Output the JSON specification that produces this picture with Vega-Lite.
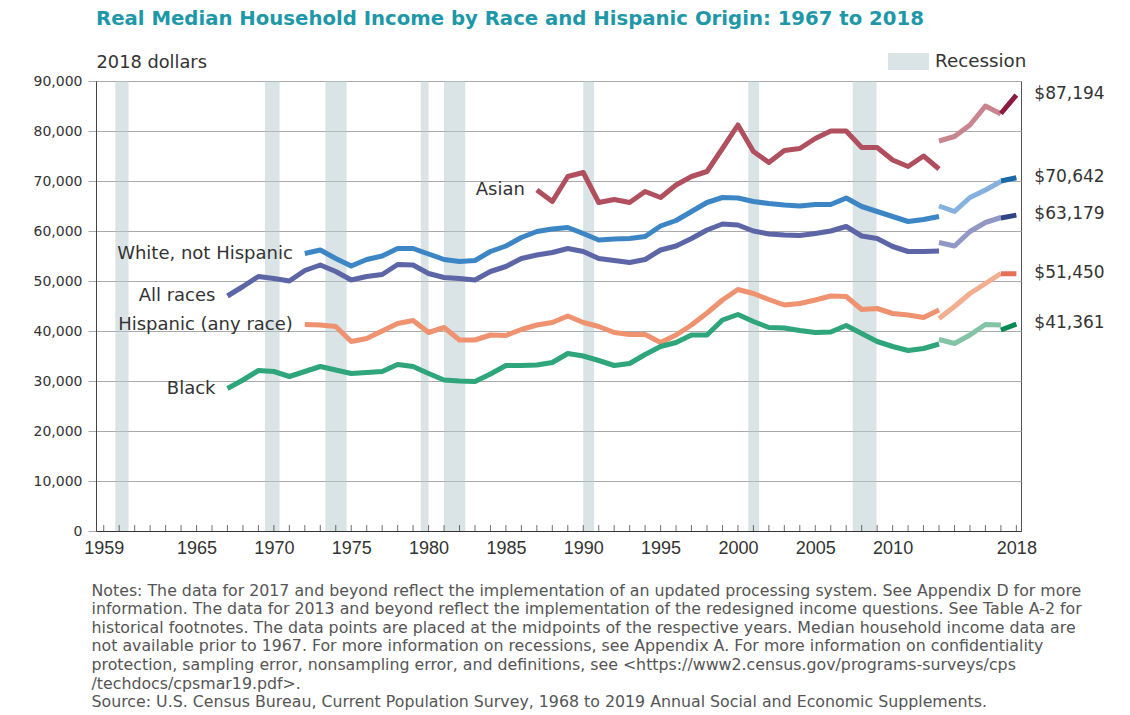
{
  "$schema": "https://vega.github.io/schema/vega-lite/v6.json",
  "width": 925,
  "height": 450,
  "autosize": {"type": "none"},
  "padding": {"left": 96, "top": 81, "right": 109, "bottom": 184},
  "background": "white",
  "config": {
    "view": {"stroke": "#555"},
    "font": "DejaVu Sans",
    "axisX": {"labelOverlap": false, "labelBound": false, "labelFlush": false},
    "axisY": {"labelOverlap": false}
  },
  "title": {
    "text": "Real Median Household Income by Race and Hispanic Origin: 1967 to 2018",
    "anchor": "start",
    "frame": "group",
    "font": "DejaVu Sans",
    "fontSize": 19.7,
    "fontWeight": "bold",
    "color": "#1e98a8",
    "offset": 12
  },
  "datasets": {
    "years": [
      {"year": 1959}, {"year": 1960}, {"year": 1961}, {"year": 1962}, {"year": 1963}, {"year": 1964}, {"year": 1965}, {"year": 1966}, {"year": 1967}, {"year": 1968},
      {"year": 1969}, {"year": 1970}, {"year": 1971}, {"year": 1972}, {"year": 1973}, {"year": 1974}, {"year": 1975}, {"year": 1976}, {"year": 1977}, {"year": 1978},
      {"year": 1979}, {"year": 1980}, {"year": 1981}, {"year": 1982}, {"year": 1983}, {"year": 1984}, {"year": 1985}, {"year": 1986}, {"year": 1987}, {"year": 1988},
      {"year": 1989}, {"year": 1990}, {"year": 1991}, {"year": 1992}, {"year": 1993}, {"year": 1994}, {"year": 1995}, {"year": 1996}, {"year": 1997}, {"year": 1998},
      {"year": 1999}, {"year": 2000}, {"year": 2001}, {"year": 2002}, {"year": 2003}, {"year": 2004}, {"year": 2005}, {"year": 2006}, {"year": 2007}, {"year": 2008},
      {"year": 2009}, {"year": 2010}, {"year": 2011}, {"year": 2012}, {"year": 2013}, {"year": 2014}, {"year": 2015}, {"year": 2016}, {"year": 2017}, {"year": 2018}
    ],
    "recessions": [
      {"start": 1960.25, "end": 1961.1},
      {"start": 1969.92, "end": 1970.87},
      {"start": 1973.83, "end": 1975.2},
      {"start": 1980.0, "end": 1980.5},
      {"start": 1981.5, "end": 1982.87},
      {"start": 1990.5, "end": 1991.2},
      {"start": 2001.17, "end": 2001.87},
      {"start": 2007.92, "end": 2009.46}
    ],
    "income": [
      {"series": "All races", "seg": 1, "year": 1967, "value": 47000},
      {"series": "All races", "seg": 1, "year": 1968, "value": 48900},
      {"series": "All races", "seg": 1, "year": 1969, "value": 50900},
      {"series": "All races", "seg": 1, "year": 1970, "value": 50500},
      {"series": "All races", "seg": 1, "year": 1971, "value": 50000},
      {"series": "All races", "seg": 1, "year": 1972, "value": 52100},
      {"series": "All races", "seg": 1, "year": 1973, "value": 53200},
      {"series": "All races", "seg": 1, "year": 1974, "value": 51900},
      {"series": "All races", "seg": 1, "year": 1975, "value": 50200},
      {"series": "All races", "seg": 1, "year": 1976, "value": 50900},
      {"series": "All races", "seg": 1, "year": 1977, "value": 51300},
      {"series": "All races", "seg": 1, "year": 1978, "value": 53300},
      {"series": "All races", "seg": 1, "year": 1979, "value": 53200},
      {"series": "All races", "seg": 1, "year": 1980, "value": 51500},
      {"series": "All races", "seg": 1, "year": 1981, "value": 50700},
      {"series": "All races", "seg": 1, "year": 1982, "value": 50500},
      {"series": "All races", "seg": 1, "year": 1983, "value": 50200},
      {"series": "All races", "seg": 1, "year": 1984, "value": 51900},
      {"series": "All races", "seg": 1, "year": 1985, "value": 52900},
      {"series": "All races", "seg": 1, "year": 1986, "value": 54500},
      {"series": "All races", "seg": 1, "year": 1987, "value": 55200},
      {"series": "All races", "seg": 1, "year": 1988, "value": 55700},
      {"series": "All races", "seg": 1, "year": 1989, "value": 56500},
      {"series": "All races", "seg": 1, "year": 1990, "value": 55900},
      {"series": "All races", "seg": 1, "year": 1991, "value": 54500},
      {"series": "All races", "seg": 1, "year": 1992, "value": 54100},
      {"series": "All races", "seg": 1, "year": 1993, "value": 53700},
      {"series": "All races", "seg": 1, "year": 1994, "value": 54300},
      {"series": "All races", "seg": 1, "year": 1995, "value": 56200},
      {"series": "All races", "seg": 1, "year": 1996, "value": 57000},
      {"series": "All races", "seg": 1, "year": 1997, "value": 58500},
      {"series": "All races", "seg": 1, "year": 1998, "value": 60200},
      {"series": "All races", "seg": 1, "year": 1999, "value": 61400},
      {"series": "All races", "seg": 1, "year": 2000, "value": 61200},
      {"series": "All races", "seg": 1, "year": 2001, "value": 60000},
      {"series": "All races", "seg": 1, "year": 2002, "value": 59400},
      {"series": "All races", "seg": 1, "year": 2003, "value": 59200},
      {"series": "All races", "seg": 1, "year": 2004, "value": 59100},
      {"series": "All races", "seg": 1, "year": 2005, "value": 59500},
      {"series": "All races", "seg": 1, "year": 2006, "value": 60000},
      {"series": "All races", "seg": 1, "year": 2007, "value": 60900},
      {"series": "All races", "seg": 1, "year": 2008, "value": 59000},
      {"series": "All races", "seg": 1, "year": 2009, "value": 58500},
      {"series": "All races", "seg": 1, "year": 2010, "value": 56900},
      {"series": "All races", "seg": 1, "year": 2011, "value": 55900},
      {"series": "All races", "seg": 1, "year": 2012, "value": 55900},
      {"series": "All races", "seg": 1, "year": 2013, "value": 56000},
      {"series": "All races", "seg": 2, "year": 2013, "value": 57700},
      {"series": "All races", "seg": 2, "year": 2014, "value": 57000},
      {"series": "All races", "seg": 2, "year": 2015, "value": 59900},
      {"series": "All races", "seg": 2, "year": 2016, "value": 61700},
      {"series": "All races", "seg": 2, "year": 2017, "value": 62700},
      {"series": "All races", "seg": 3, "year": 2017, "value": 62600},
      {"series": "All races", "seg": 3, "year": 2018, "value": 63179},

      {"series": "White, not Hispanic", "seg": 1, "year": 1972, "value": 55500},
      {"series": "White, not Hispanic", "seg": 1, "year": 1973, "value": 56200},
      {"series": "White, not Hispanic", "seg": 1, "year": 1974, "value": 54500},
      {"series": "White, not Hispanic", "seg": 1, "year": 1975, "value": 53000},
      {"series": "White, not Hispanic", "seg": 1, "year": 1976, "value": 54300},
      {"series": "White, not Hispanic", "seg": 1, "year": 1977, "value": 55000},
      {"series": "White, not Hispanic", "seg": 1, "year": 1978, "value": 56500},
      {"series": "White, not Hispanic", "seg": 1, "year": 1979, "value": 56500},
      {"series": "White, not Hispanic", "seg": 1, "year": 1980, "value": 55400},
      {"series": "White, not Hispanic", "seg": 1, "year": 1981, "value": 54300},
      {"series": "White, not Hispanic", "seg": 1, "year": 1982, "value": 53900},
      {"series": "White, not Hispanic", "seg": 1, "year": 1983, "value": 54100},
      {"series": "White, not Hispanic", "seg": 1, "year": 1984, "value": 55900},
      {"series": "White, not Hispanic", "seg": 1, "year": 1985, "value": 57000},
      {"series": "White, not Hispanic", "seg": 1, "year": 1986, "value": 58700},
      {"series": "White, not Hispanic", "seg": 1, "year": 1987, "value": 59900},
      {"series": "White, not Hispanic", "seg": 1, "year": 1988, "value": 60400},
      {"series": "White, not Hispanic", "seg": 1, "year": 1989, "value": 60700},
      {"series": "White, not Hispanic", "seg": 1, "year": 1990, "value": 59500},
      {"series": "White, not Hispanic", "seg": 1, "year": 1991, "value": 58200},
      {"series": "White, not Hispanic", "seg": 1, "year": 1992, "value": 58400},
      {"series": "White, not Hispanic", "seg": 1, "year": 1993, "value": 58500},
      {"series": "White, not Hispanic", "seg": 1, "year": 1994, "value": 58900},
      {"series": "White, not Hispanic", "seg": 1, "year": 1995, "value": 61000},
      {"series": "White, not Hispanic", "seg": 1, "year": 1996, "value": 62100},
      {"series": "White, not Hispanic", "seg": 1, "year": 1997, "value": 63900},
      {"series": "White, not Hispanic", "seg": 1, "year": 1998, "value": 65700},
      {"series": "White, not Hispanic", "seg": 1, "year": 1999, "value": 66700},
      {"series": "White, not Hispanic", "seg": 1, "year": 2000, "value": 66600},
      {"series": "White, not Hispanic", "seg": 1, "year": 2001, "value": 65900},
      {"series": "White, not Hispanic", "seg": 1, "year": 2002, "value": 65500},
      {"series": "White, not Hispanic", "seg": 1, "year": 2003, "value": 65200},
      {"series": "White, not Hispanic", "seg": 1, "year": 2004, "value": 65000},
      {"series": "White, not Hispanic", "seg": 1, "year": 2005, "value": 65300},
      {"series": "White, not Hispanic", "seg": 1, "year": 2006, "value": 65300},
      {"series": "White, not Hispanic", "seg": 1, "year": 2007, "value": 66600},
      {"series": "White, not Hispanic", "seg": 1, "year": 2008, "value": 64900},
      {"series": "White, not Hispanic", "seg": 1, "year": 2009, "value": 63900},
      {"series": "White, not Hispanic", "seg": 1, "year": 2010, "value": 62900},
      {"series": "White, not Hispanic", "seg": 1, "year": 2011, "value": 61900},
      {"series": "White, not Hispanic", "seg": 1, "year": 2012, "value": 62300},
      {"series": "White, not Hispanic", "seg": 1, "year": 2013, "value": 62900},
      {"series": "White, not Hispanic", "seg": 2, "year": 2013, "value": 65000},
      {"series": "White, not Hispanic", "seg": 2, "year": 2014, "value": 63900},
      {"series": "White, not Hispanic", "seg": 2, "year": 2015, "value": 66700},
      {"series": "White, not Hispanic", "seg": 2, "year": 2016, "value": 68200},
      {"series": "White, not Hispanic", "seg": 2, "year": 2017, "value": 69900},
      {"series": "White, not Hispanic", "seg": 3, "year": 2017, "value": 70000},
      {"series": "White, not Hispanic", "seg": 3, "year": 2018, "value": 70642},

      {"series": "Asian", "seg": 1, "year": 1987, "value": 68200},
      {"series": "Asian", "seg": 1, "year": 1988, "value": 65900},
      {"series": "Asian", "seg": 1, "year": 1989, "value": 70900},
      {"series": "Asian", "seg": 1, "year": 1990, "value": 71700},
      {"series": "Asian", "seg": 1, "year": 1991, "value": 65700},
      {"series": "Asian", "seg": 1, "year": 1992, "value": 66300},
      {"series": "Asian", "seg": 1, "year": 1993, "value": 65700},
      {"series": "Asian", "seg": 1, "year": 1994, "value": 67900},
      {"series": "Asian", "seg": 1, "year": 1995, "value": 66700},
      {"series": "Asian", "seg": 1, "year": 1996, "value": 69200},
      {"series": "Asian", "seg": 1, "year": 1997, "value": 70900},
      {"series": "Asian", "seg": 1, "year": 1998, "value": 71900},
      {"series": "Asian", "seg": 1, "year": 1999, "value": 76500},
      {"series": "Asian", "seg": 1, "year": 2000, "value": 81200},
      {"series": "Asian", "seg": 1, "year": 2001, "value": 75900},
      {"series": "Asian", "seg": 1, "year": 2002, "value": 73700},
      {"series": "Asian", "seg": 1, "year": 2003, "value": 76100},
      {"series": "Asian", "seg": 1, "year": 2004, "value": 76500},
      {"series": "Asian", "seg": 1, "year": 2005, "value": 78500},
      {"series": "Asian", "seg": 1, "year": 2006, "value": 80000},
      {"series": "Asian", "seg": 1, "year": 2007, "value": 80000},
      {"series": "Asian", "seg": 1, "year": 2008, "value": 76700},
      {"series": "Asian", "seg": 1, "year": 2009, "value": 76700},
      {"series": "Asian", "seg": 1, "year": 2010, "value": 74200},
      {"series": "Asian", "seg": 1, "year": 2011, "value": 72900},
      {"series": "Asian", "seg": 1, "year": 2012, "value": 75000},
      {"series": "Asian", "seg": 1, "year": 2013, "value": 72400},
      {"series": "Asian", "seg": 2, "year": 2013, "value": 78000},
      {"series": "Asian", "seg": 2, "year": 2014, "value": 78900},
      {"series": "Asian", "seg": 2, "year": 2015, "value": 81200},
      {"series": "Asian", "seg": 2, "year": 2016, "value": 85000},
      {"series": "Asian", "seg": 2, "year": 2017, "value": 83400},
      {"series": "Asian", "seg": 3, "year": 2017, "value": 83500},
      {"series": "Asian", "seg": 3, "year": 2018, "value": 87194},

      {"series": "Hispanic (any race)", "seg": 1, "year": 1972, "value": 41300},
      {"series": "Hispanic (any race)", "seg": 1, "year": 1973, "value": 41200},
      {"series": "Hispanic (any race)", "seg": 1, "year": 1974, "value": 40900},
      {"series": "Hispanic (any race)", "seg": 1, "year": 1975, "value": 37900},
      {"series": "Hispanic (any race)", "seg": 1, "year": 1976, "value": 38500},
      {"series": "Hispanic (any race)", "seg": 1, "year": 1977, "value": 40000},
      {"series": "Hispanic (any race)", "seg": 1, "year": 1978, "value": 41500},
      {"series": "Hispanic (any race)", "seg": 1, "year": 1979, "value": 42100},
      {"series": "Hispanic (any race)", "seg": 1, "year": 1980, "value": 39700},
      {"series": "Hispanic (any race)", "seg": 1, "year": 1981, "value": 40700},
      {"series": "Hispanic (any race)", "seg": 1, "year": 1982, "value": 38200},
      {"series": "Hispanic (any race)", "seg": 1, "year": 1983, "value": 38200},
      {"series": "Hispanic (any race)", "seg": 1, "year": 1984, "value": 39200},
      {"series": "Hispanic (any race)", "seg": 1, "year": 1985, "value": 39100},
      {"series": "Hispanic (any race)", "seg": 1, "year": 1986, "value": 40300},
      {"series": "Hispanic (any race)", "seg": 1, "year": 1987, "value": 41200},
      {"series": "Hispanic (any race)", "seg": 1, "year": 1988, "value": 41700},
      {"series": "Hispanic (any race)", "seg": 1, "year": 1989, "value": 43000},
      {"series": "Hispanic (any race)", "seg": 1, "year": 1990, "value": 41700},
      {"series": "Hispanic (any race)", "seg": 1, "year": 1991, "value": 40900},
      {"series": "Hispanic (any race)", "seg": 1, "year": 1992, "value": 39700},
      {"series": "Hispanic (any race)", "seg": 1, "year": 1993, "value": 39300},
      {"series": "Hispanic (any race)", "seg": 1, "year": 1994, "value": 39300},
      {"series": "Hispanic (any race)", "seg": 1, "year": 1995, "value": 37700},
      {"series": "Hispanic (any race)", "seg": 1, "year": 1996, "value": 39200},
      {"series": "Hispanic (any race)", "seg": 1, "year": 1997, "value": 41200},
      {"series": "Hispanic (any race)", "seg": 1, "year": 1998, "value": 43600},
      {"series": "Hispanic (any race)", "seg": 1, "year": 1999, "value": 46200},
      {"series": "Hispanic (any race)", "seg": 1, "year": 2000, "value": 48300},
      {"series": "Hispanic (any race)", "seg": 1, "year": 2001, "value": 47500},
      {"series": "Hispanic (any race)", "seg": 1, "year": 2002, "value": 46300},
      {"series": "Hispanic (any race)", "seg": 1, "year": 2003, "value": 45200},
      {"series": "Hispanic (any race)", "seg": 1, "year": 2004, "value": 45500},
      {"series": "Hispanic (any race)", "seg": 1, "year": 2005, "value": 46200},
      {"series": "Hispanic (any race)", "seg": 1, "year": 2006, "value": 47000},
      {"series": "Hispanic (any race)", "seg": 1, "year": 2007, "value": 46900},
      {"series": "Hispanic (any race)", "seg": 1, "year": 2008, "value": 44300},
      {"series": "Hispanic (any race)", "seg": 1, "year": 2009, "value": 44500},
      {"series": "Hispanic (any race)", "seg": 1, "year": 2010, "value": 43500},
      {"series": "Hispanic (any race)", "seg": 1, "year": 2011, "value": 43200},
      {"series": "Hispanic (any race)", "seg": 1, "year": 2012, "value": 42700},
      {"series": "Hispanic (any race)", "seg": 1, "year": 2013, "value": 44200},
      {"series": "Hispanic (any race)", "seg": 2, "year": 2013, "value": 42500},
      {"series": "Hispanic (any race)", "seg": 2, "year": 2014, "value": 44900},
      {"series": "Hispanic (any race)", "seg": 2, "year": 2015, "value": 47500},
      {"series": "Hispanic (any race)", "seg": 2, "year": 2016, "value": 49500},
      {"series": "Hispanic (any race)", "seg": 2, "year": 2017, "value": 51500},
      {"series": "Hispanic (any race)", "seg": 3, "year": 2017, "value": 51450},
      {"series": "Hispanic (any race)", "seg": 3, "year": 2018, "value": 51450},

      {"series": "Black", "seg": 1, "year": 1967, "value": 28500},
      {"series": "Black", "seg": 1, "year": 1968, "value": 30200},
      {"series": "Black", "seg": 1, "year": 1969, "value": 32100},
      {"series": "Black", "seg": 1, "year": 1970, "value": 31900},
      {"series": "Black", "seg": 1, "year": 1971, "value": 30900},
      {"series": "Black", "seg": 1, "year": 1972, "value": 31900},
      {"series": "Black", "seg": 1, "year": 1973, "value": 32900},
      {"series": "Black", "seg": 1, "year": 1974, "value": 32200},
      {"series": "Black", "seg": 1, "year": 1975, "value": 31500},
      {"series": "Black", "seg": 1, "year": 1976, "value": 31700},
      {"series": "Black", "seg": 1, "year": 1977, "value": 31900},
      {"series": "Black", "seg": 1, "year": 1978, "value": 33300},
      {"series": "Black", "seg": 1, "year": 1979, "value": 32900},
      {"series": "Black", "seg": 1, "year": 1980, "value": 31500},
      {"series": "Black", "seg": 1, "year": 1981, "value": 30200},
      {"series": "Black", "seg": 1, "year": 1982, "value": 30000},
      {"series": "Black", "seg": 1, "year": 1983, "value": 29900},
      {"series": "Black", "seg": 1, "year": 1984, "value": 31400},
      {"series": "Black", "seg": 1, "year": 1985, "value": 33100},
      {"series": "Black", "seg": 1, "year": 1986, "value": 33100},
      {"series": "Black", "seg": 1, "year": 1987, "value": 33200},
      {"series": "Black", "seg": 1, "year": 1988, "value": 33700},
      {"series": "Black", "seg": 1, "year": 1989, "value": 35500},
      {"series": "Black", "seg": 1, "year": 1990, "value": 35000},
      {"series": "Black", "seg": 1, "year": 1991, "value": 34100},
      {"series": "Black", "seg": 1, "year": 1992, "value": 33100},
      {"series": "Black", "seg": 1, "year": 1993, "value": 33500},
      {"series": "Black", "seg": 1, "year": 1994, "value": 35300},
      {"series": "Black", "seg": 1, "year": 1995, "value": 36900},
      {"series": "Black", "seg": 1, "year": 1996, "value": 37700},
      {"series": "Black", "seg": 1, "year": 1997, "value": 39200},
      {"series": "Black", "seg": 1, "year": 1998, "value": 39200},
      {"series": "Black", "seg": 1, "year": 1999, "value": 42200},
      {"series": "Black", "seg": 1, "year": 2000, "value": 43300},
      {"series": "Black", "seg": 1, "year": 2001, "value": 41900},
      {"series": "Black", "seg": 1, "year": 2002, "value": 40700},
      {"series": "Black", "seg": 1, "year": 2003, "value": 40600},
      {"series": "Black", "seg": 1, "year": 2004, "value": 40100},
      {"series": "Black", "seg": 1, "year": 2005, "value": 39700},
      {"series": "Black", "seg": 1, "year": 2006, "value": 39800},
      {"series": "Black", "seg": 1, "year": 2007, "value": 41100},
      {"series": "Black", "seg": 1, "year": 2008, "value": 39500},
      {"series": "Black", "seg": 1, "year": 2009, "value": 37900},
      {"series": "Black", "seg": 1, "year": 2010, "value": 36900},
      {"series": "Black", "seg": 1, "year": 2011, "value": 36100},
      {"series": "Black", "seg": 1, "year": 2012, "value": 36500},
      {"series": "Black", "seg": 1, "year": 2013, "value": 37400},
      {"series": "Black", "seg": 2, "year": 2013, "value": 38300},
      {"series": "Black", "seg": 2, "year": 2014, "value": 37500},
      {"series": "Black", "seg": 2, "year": 2015, "value": 39200},
      {"series": "Black", "seg": 2, "year": 2016, "value": 41300},
      {"series": "Black", "seg": 2, "year": 2017, "value": 41200},
      {"series": "Black", "seg": 3, "year": 2017, "value": 40200},
      {"series": "Black", "seg": 3, "year": 2018, "value": 41361}
    ]
  },
  "resolve": {"scale": {"color": "independent"}},
  "layer": [
    {
      "data": {"name": "recessions"},
      "mark": {"type": "rect", "opacity": 0.5},
      "encoding": {
        "x": {
          "field": "start",
          "type": "quantitative",
          "scale": {"domain": [1959, 2018.8], "nice": false, "zero": false},
          "axis": {
            "title": [
              "Notes: The data for 2017 and beyond reflect the implementation of an updated processing system. See Appendix D for more",
              "information. The data for 2013 and beyond reflect the implementation of the redesigned income questions. See Table A-2 for",
              "historical footnotes. The data points are placed at the midpoints of the respective years. Median household income data are",
              "not available prior to 1967. For more information on recessions, see Appendix A. For more information on confidentiality",
              "protection, sampling error, nonsampling error, and definitions, see <https://www2.census.gov/programs-surveys/cps",
              "/techdocs/cpsmar19.pdf>.",
              "Source: U.S. Census Bureau, Current Population Survey, 1968 to 2019 Annual Social and Economic Supplements."
            ],
            "titleFont": "DejaVu Sans",
            "titleFontSize": 15.8,
            "titleFontWeight": "normal",
            "titleColor": "#555555",
            "titleAlign": "left",
            "titleAnchor": "start",
            "titleX": -5,
            "titleY": 64,
            "titleBaseline": "alphabetic",
            "titleLineHeight": 18.6,
            "values": [1959.5, 1965.5, 1970.5, 1975.5, 1980.5, 1985.5, 1990.5, 1995.5, 2000.5, 2005.5, 2010.5, 2018.5],
            "labelExpr": "'' + floor(datum.value)",
            "labelOverlap": false,
            "labelFlush": false,
            "labelBound": false,
            "labelFont": "Liberation Sans",
            "labelFontSize": 18,
            "labelColor": "#333333",
            "labelPadding": 8,
            "ticks": false,
            "domainColor": "#333333",
            "grid": false
          }
        },
        "x2": {"field": "end"},
        "color": {
          "datum": "Recession",
          "type": "nominal",
          "scale": {"range": ["#b5c8ce"]},
          "legend": {
            "title": null,
            "orient": "none",
            "legendX": 792,
            "legendY": -40,
            "symbolType": "M-1,-0.41L1,-0.41L1,0.41L-1,0.41Z",
            "symbolSize": 1681,
            "symbolStrokeWidth": 0,
            "symbolOpacity": 0.5,
            "labelFont": "DejaVu Sans",
            "labelFontSize": 18.3,
            "labelColor": "#333333",
            "labelOffset": 6,
            "padding": 0
          }
        }
      }
    },
    {
      "data": {"name": "years"},
      "transform": [{"calculate": "datum.year + 0.5", "as": "t"}],
      "mark": {"type": "tick", "orient": "vertical", "size": 6, "thickness": 1, "color": "#333333", "yOffset": -3},
      "encoding": {
        "x": {"field": "t", "type": "quantitative"},
        "y": {"datum": 0, "type": "quantitative"}
      }
    },
    {
      "data": {"name": "income"},
      "transform": [
        {"calculate": "datum.year + 0.5", "as": "t"},
        {"calculate": "datum.series + ' ' + datum.seg", "as": "key"}
      ],
      "mark": {"type": "line", "strokeWidth": 5, "strokeCap": "butt", "strokeJoin": "round"},
      "encoding": {
        "x": {"field": "t", "type": "quantitative"},
        "y": {
          "field": "value",
          "type": "quantitative",
          "scale": {"domain": [0, 90000], "nice": false},
          "axis": {
            "title": "2018 dollars",
            "titleAngle": 0,
            "titleAlign": "left",
            "titleX": 0,
            "titleY": -14,
            "titleBaseline": "alphabetic",
            "titleFont": "DejaVu Sans",
            "titleFontSize": 17.8,
            "titleFontWeight": "normal",
            "titleColor": "#333333",
            "values": [0, 10000, 20000, 30000, 40000, 50000, 60000, 70000, 80000, 90000],
            "format": ",.0f",
            "labelFont": "DejaVu Sans",
            "labelFontSize": 14,
            "labelColor": "#333333",
            "labelPadding": 6,
            "tickSize": 8,
            "tickColor": "#aaaaaa",
            "gridColor": "#aaaaaa",
            "grid": true,
            "domainColor": "#444444"
          }
        },
        "detail": {"field": "key"},
        "order": {"field": "t"},
        "color": {
          "field": "key",
          "type": "nominal",
          "legend": null,
          "scale": {
            "domain": ["Asian 1", "Asian 2", "Asian 3", "White, not Hispanic 1", "White, not Hispanic 2", "White, not Hispanic 3", "All races 1", "All races 2", "All races 3", "Hispanic (any race) 1", "Hispanic (any race) 2", "Hispanic (any race) 3", "Black 1", "Black 2", "Black 3"],
            "range": ["#b0505e", "#c9858d", "#8c1a3f", "#3d86c6", "#86b0dd", "#1a6aa8", "#5c66a6", "#9297c4", "#2f4583", "#ef9270", "#f3ad8f", "#e5705a", "#2ea57a", "#84c4a6", "#078a55"]
          }
        }
      }
    },
    {
      "data": {"name": "income"},
      "transform": [
        {"calculate": "datum.year + 0.5", "as": "t"},
        {"joinaggregate": [{"op": "min", "field": "year", "as": "first"}], "groupby": ["series"]},
        {"filter": "datum.year == datum.first"}
      ],
      "mark": {"type": "text", "align": "right", "baseline": "middle", "dx": -12, "font": "DejaVu Sans", "fontSize": 18, "color": "#333333"},
      "encoding": {
        "x": {"field": "t", "type": "quantitative"},
        "y": {"field": "value", "type": "quantitative"},
        "text": {"field": "series"}
      }
    },
    {
      "data": {"name": "income"},
      "transform": [
        {"calculate": "datum.year + 0.5", "as": "t"},
        {"filter": "datum.year == 2018"}
      ],
      "mark": {"type": "text", "align": "left", "baseline": "middle", "dx": 18, "dy": -1, "font": "DejaVu Sans", "fontSize": 17, "color": "#333333"},
      "encoding": {
        "x": {"field": "t", "type": "quantitative"},
        "y": {"field": "value", "type": "quantitative"},
        "text": {"field": "value", "type": "quantitative", "format": "$,.0f"}
      }
    }
  ]
}
